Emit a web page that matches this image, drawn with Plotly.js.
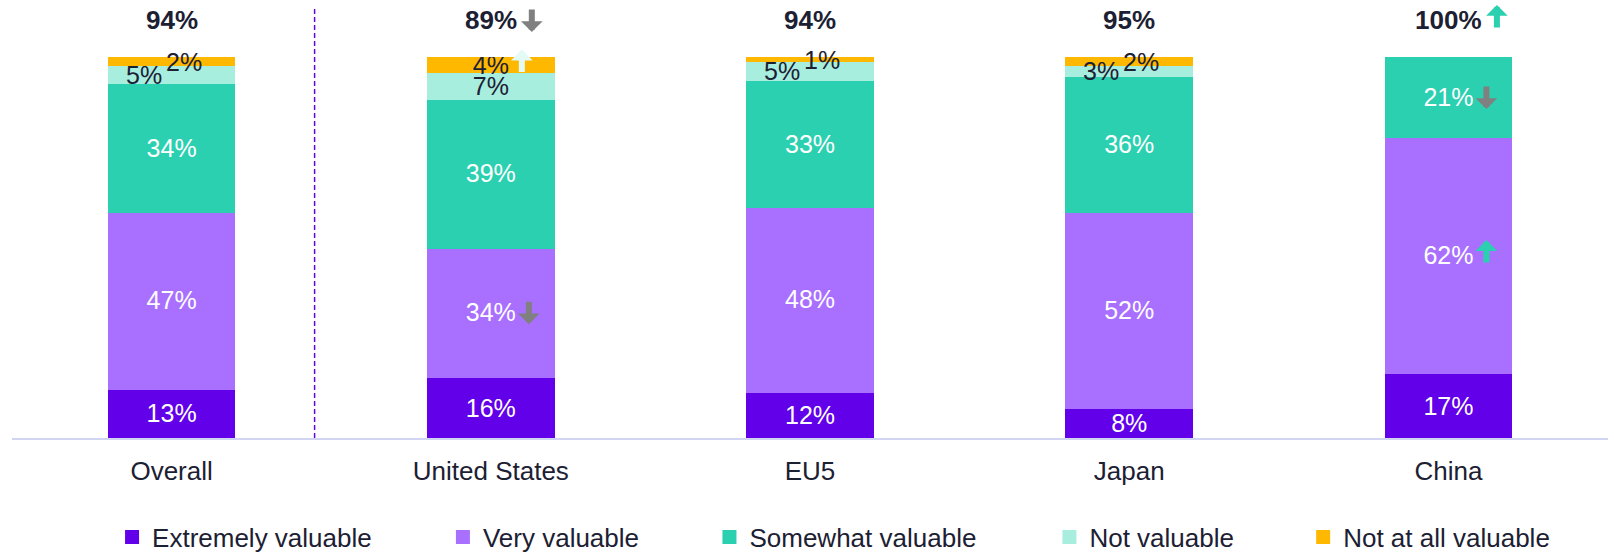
<!DOCTYPE html>
<html><head><meta charset="utf-8">
<script src="https://cdn.plot.ly/plotly-3.0.1.min.js"></script>
<style>html,body{margin:0;padding:0;background:#fff}#chart{width:1614px;height:552px}</style>
</head><body><div id="chart"></div>
<script>
// ---- data ----
const categories = ['Overall', 'United States', 'EU5', 'Japan', 'China'];
const extremely = [13, 16, 12, 8, 17];
const very = [47, 34, 48, 52, 62];
const somewhat = [34, 39, 33, 36, 21];
const notValuable = [5, 7, 5, 3, 0];
const notAtAll = [2, 4, 1, 2, 0];
const totals = [94, 89, 94, 95, 100];          // top-of-bar totals (extremely+very+somewhat)
const totalChange = [0, -1, 0, 0, 1];          // -1 = significant decrease, 1 = increase
const extremelyChange = [0, 0, 0, 0, 0];
const veryChange = [0, -1, 0, 0, 1];
const somewhatChange = [0, 0, 0, 0, -1];
const notValuableChange = [0, 0, 0, 0, 0];
const notAtAllChange = [0, 1, 0, 0, 0];

// ---- styles ----
const DARK = '#1C2033';
const FONT = 'Liberation Sans, Arial, sans-serif';
const series = [
  {name: 'Extremely valuable', values: extremely, change: extremelyChange, color: '#6200EA', txt: '#FFFFFF', up: '#2AD0B0'},
  {name: 'Very valuable', values: very, change: veryChange, color: '#A970FF', txt: '#FFFFFF', up: '#2AD0B0'},
  {name: 'Somewhat valuable', values: somewhat, change: somewhatChange, color: '#2AD0B0', txt: '#FFFFFF', up: '#2AD0B0'},
  {name: 'Not valuable', values: notValuable, change: notValuableChange, color: '#A8EEDF', txt: DARK, up: '#E3FAF5'},
  {name: 'Not at all valuable', values: notAtAll, change: notAtAllChange, color: '#FFB800', txt: DARK, up: '#E3FAF5'}
];
const legendX = [0.0627, 0.270, 0.437, 0.650, 0.809];

const sums = categories.map((_, i) => series.reduce((s, se) => s + se.values[i], 0));
function mid(k, i) {
  let base = 0;
  for (let j = 0; j < k; j++) base += series[j].values[i];
  return (base + series[k].values[i] / 2) / sums[i] * 100;
}
// categories whose two top segments are too thin get call-out labels beside the bar
const callout = categories.map((_, i) => notAtAll[i] > 0 && notAtAll[i] < 3);

const traces = series.map((se, k) => ({
  type: 'bar',
  name: se.name,
  x: categories,
  y: se.values,
  legend: k === 0 ? 'legend' : 'legend' + (k + 1),
  marker: {color: se.color, line: {width: se.values.map(v => v > 0 ? 2 : 0), color: se.color}},
  text: se.values.map((v, i) => (v > 0 && !(k >= 3 && callout[i])) ? v + '%' : ''),
  textposition: 'inside',
  insidetextanchor: 'middle',
  textangle: 0,
  constraintext: 'none',
  textfont: {family: FONT, size: 25, color: se.txt},
  hoverinfo: 'skip'
}));

function halfWidth(str, size) {
  let w = 0;
  for (const c of str) w += (c === '%') ? 0.889 : 0.556;
  return w * size / 2;
}
function arrow(i, y, centerShift, xshift, dir, color) {
  return {
    x: categories[i], y: y, xref: 'x', yref: 'y', text: '', showarrow: true,
    arrowhead: 1, arrowwidth: 6, arrowsize: 0.6, arrowcolor: color, standoff: 0,
    ax: 0, ay: dir < 0 ? -24 : 24, axref: 'pixel', ayref: 'pixel',
    xshift: xshift, yshift: centerShift + (dir < 0 ? -12 : 15)
  };
}

const annotations = [];
// totals
categories.forEach((c, i) => {
  annotations.push({x: c, y: 100, xref: 'x', yref: 'y', text: '<b>' + totals[i] + '%</b>', showarrow: false,
    yshift: 37, yanchor: 'middle', font: {family: FONT, size: 26, color: DARK}});
  if (totalChange[i] !== 0) {
    const hw = halfWidth(totals[i] + '%', 27);
    annotations.push(arrow(i, 100, 37, hw + 14, totalChange[i], totalChange[i] < 0 ? '#808080' : '#2AD0B0'));
  }
});
// call-out labels for thin segments
categories.forEach((c, i) => {
  if (!callout[i]) return;
  annotations.push({x: c, y: mid(3, i), xref: 'x', yref: 'y', text: notValuable[i] + '%', showarrow: false,
    xshift: -28, yshift: -1, font: {family: FONT, size: 25, color: DARK}});
  annotations.push({x: c, y: mid(4, i), xref: 'x', yref: 'y', text: notAtAll[i] + '%', showarrow: false,
    xshift: 12, yshift: -1, font: {family: FONT, size: 25, color: DARK}});
});
// change arrows inside segments
series.forEach((se, k) => {
  se.change.forEach((d, i) => {
    if (d === 0) return;
    const hw = halfWidth(se.values[i] + '%', 25);
    annotations.push(arrow(i, mid(k, i), 0, hw + 13, d, d < 0 ? '#808080' : se.up));
  });
});

const layout = {
  width: 1614, height: 552,
  margin: {l: 12, r: 6, t: 57, b: 114, autoexpand: false},
  paper_bgcolor: '#FFFFFF', plot_bgcolor: '#FFFFFF',
  barmode: 'stack', barnorm: 'percent', bargap: 0.606,
  font: {family: FONT, color: DARK},
  showlegend: true,
  xaxis: {
    type: 'category', range: [-0.5, 4.5], showgrid: false, zeroline: false,
    showline: true, linecolor: '#D2D5F1', linewidth: 2, ticks: '',
    tickfont: {family: FONT, size: 26, color: DARK}, ticklabelstandoff: 9, fixedrange: true
  },
  yaxis: {range: [0, 100], visible: false, showgrid: false, zeroline: false, fixedrange: true},
  shapes: [{
    type: 'line', xref: 'x', yref: 'paper', x0: 0.448, x1: 0.448, y0: 0, y1: 1.13,
    line: {color: '#6200EA', width: 1.5, dash: '5px,3px'}
  }],
  annotations: annotations
};
series.forEach((se, k) => {
  const key = k === 0 ? 'legend' : 'legend' + (k + 1);
  layout[key] = {
    orientation: 'h', x: legendX[k], xanchor: 'left', y: -0.26, yanchor: 'middle',
    font: {family: FONT, size: 26, color: DARK}, bgcolor: 'rgba(0,0,0,0)', borderwidth: 0
  };
});

Plotly.newPlot('chart', traces, layout, {displayModeBar: false, staticPlot: true});
</script>
</body></html>
